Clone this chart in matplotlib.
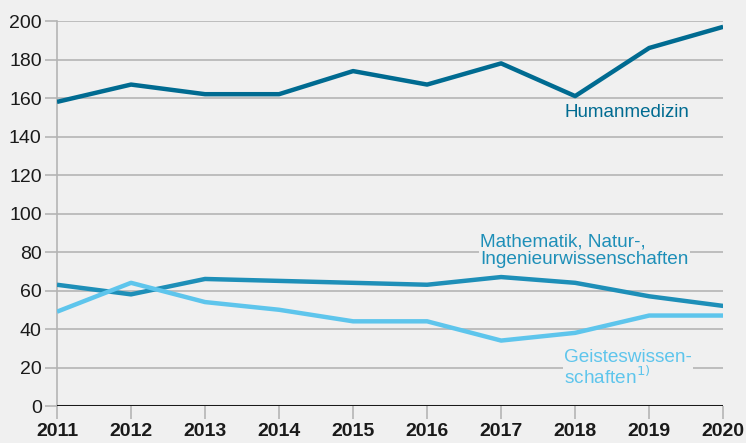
import numpy as np
import matplotlib.pyplot as plt

plt.rcParams['font.family'] = ['Liberation Sans', 'DejaVu Sans']

years = [2011, 2012, 2013, 2014, 2015, 2016, 2017, 2018, 2019, 2020]
human = [158, 167, 162, 162, 174, 167, 178, 161, 186, 197]
mint = [63, 58, 66, 65, 64, 63, 67, 64, 57, 52]
geist = [49, 64, 54, 50, 44, 44, 34, 38, 47, 47]

bg = '#f0f0f0'
c_human = '#006b91'
c_mint = '#1e8fb8'
c_geist = '#5ec5ec'
grid = '#b4b4b4'

fig = plt.figure(figsize=(7.46, 4.43), dpi=100, facecolor=bg)
ax = fig.add_axes([0.0764, 0.0835, 0.893, 0.869], facecolor=bg)

ax.set_xlim(2011, 2020)
ax.set_ylim(0, 200)
ax.set_yticks(np.arange(0, 201, 20))
ax.set_xticks(years)
ax.grid(axis='y', color=grid, linewidth=1.2, zorder=0)
ax.axhline(0, color='#1a1a1a', linewidth=2.2, zorder=3)

ax.plot(years, mint, color=c_mint, linewidth=3.2, zorder=4, solid_capstyle='butt')
ax.plot(years, geist, color=c_geist, linewidth=3.2, zorder=4, solid_capstyle='butt')
ax.plot(years, human, color=c_human, linewidth=3.2, zorder=4, solid_capstyle='butt')

for s in ['top', 'right', 'bottom']:
    ax.spines[s].set_visible(False)
ax.spines['left'].set_color(grid)
ax.spines['left'].set_linewidth(1.2)

ax.tick_params(axis='y', length=9, width=1.2, color=grid, labelsize=14,
               labelcolor='#1a1a1a', pad=2)
ax.tick_params(axis='x', length=9, width=1.2, color=grid, labelsize=14,
               labelcolor='#1a1a1a', pad=3)
for lbl in ax.get_xticklabels():
    lbl.set_fontweight('bold')

box = dict(facecolor=bg, edgecolor='none', pad=1)
ax.text(2017.86, 152.5, 'Humanmedizin', color=c_human, fontsize=13.5,
        va='center', ha='left', bbox=box, zorder=5)
ax.text(2016.72, 80.5, 'Mathematik, Natur-,\nIngenieurwissenschaften', color=c_mint,
        fontsize=13.7, va='center', ha='left', linespacing=1.02, bbox=box, zorder=5)
ax.text(2017.85, 19.5, 'Geisteswissen-\nschaften$^{1)}$', color=c_geist,
        fontsize=13.7, va='center', ha='left', linespacing=1.02, bbox=box, zorder=5)

fig.savefig('out.png', dpi=100, facecolor=bg)
